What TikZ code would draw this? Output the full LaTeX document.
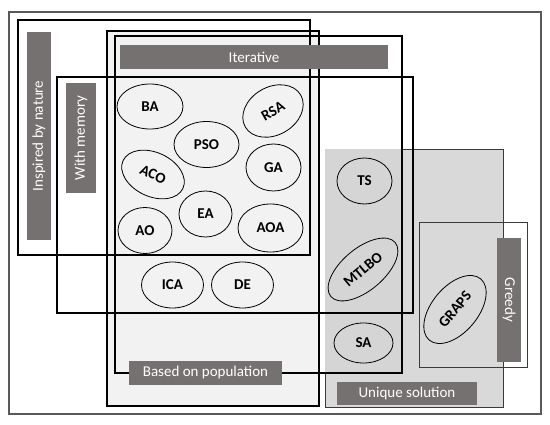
\documentclass[tikz,border=0pt]{standalone}
\usepackage{fontspec}
\setmainfont{Carlito}
\usetikzlibrary{shapes.geometric}
\definecolor{barcol}{HTML}{767171}
\definecolor{lightfill}{HTML}{F2F2F2}
\definecolor{midfill}{HTML}{D9D9D9}
\definecolor{overfill}{HTML}{D5D5D5}
\definecolor{framecol}{HTML}{595959}
\definecolor{thincol}{HTML}{3A3A3A}
\begin{document}
\begin{tikzpicture}[x=1pt,y=-1pt,
  region/.style={rectangle, inner sep=0pt, outer sep=0pt},
  setbox/.style={region, draw=black, line width=1.5pt},
  labelbar/.style={rectangle, fill=barcol, text=white, inner sep=0pt, outer sep=0pt,
    font=\fontsize{15}{18}\selectfont},
  algo/.style={ellipse, draw=black, line width=0.8pt, inner sep=0pt,
    font=\fontsize{15}{18}\selectfont\bfseries}]
\useasboundingbox (0,0) rectangle (550,425);
% outer frame
\node[region, draw=framecol, line width=1.2pt, minimum width=532pt, minimum height=402pt] (frame) at (275,213) {};
% filled areas
\node[region, fill=lightfill, minimum width=212pt, minimum height=375pt] (iterfill) at (213,218.5) {};
\node[region, fill=midfill, draw=thincol, line width=0.8pt, minimum width=178pt, minimum height=258pt] (unique) at (414,278) {};
\node[region, fill=overfill, minimum width=77pt, minimum height=224pt] (overlap) at (363.5,261) {};
% algorithms
\node[algo, minimum width=66pt, minimum height=45pt] (BA) at (150,106.5) {BA};
\node[algo, minimum width=65pt, minimum height=46pt] (PSO) at (206.5,144.5) {PSO};
\node[algo, minimum width=64pt, minimum height=48pt, rotate=30] (RSA) at (273,111) {RSA};
\node[algo, minimum width=66pt, minimum height=44pt, rotate=-25] (ACO) at (153,174.5) {ACO};
\node[algo, minimum width=55pt, minimum height=47pt] (GA) at (273.5,167.5) {GA};
\node[algo, minimum width=53pt, minimum height=46pt] (EA) at (205.5,214) {EA};
\node[algo, minimum width=54pt, minimum height=46pt] (AO) at (145,230.5) {AO};
\node[algo, minimum width=65pt, minimum height=48pt] (AOA) at (270.5,228) {AOA};
\node[algo, minimum width=62pt, minimum height=46pt] (ICA) at (172.5,285) {ICA};
\node[algo, minimum width=62pt, minimum height=46pt] (DE) at (242.5,285) {DE};
\node[algo, minimum width=55pt, minimum height=46pt] (TS) at (364.5,181) {TS};
\node[algo, minimum width=84pt, minimum height=42pt, rotate=40] (MTLBO) at (363,269.5) {MTLBO};
\node[algo, minimum width=59pt, minimum height=40pt] (SA) at (363.5,343) {SA};
\node[algo, minimum width=80pt, minimum height=46pt, rotate=50] (GRAPS) at (455,309.5) {GRAPS};
% set outlines
\node[setbox, minimum width=212pt, minimum height=375pt] (iterative) at (213,218.5) {};
\node[setbox, minimum width=292pt, minimum height=235pt] (nature) at (164,137.5) {};
\node[setbox, minimum width=356pt, minimum height=236pt] (memory) at (235,195) {};
\node[setbox, minimum width=287pt, minimum height=337pt] (population) at (258.5,204.5) {};
\node[region, draw=thincol, line width=1pt, minimum width=108pt, minimum height=145pt] (greedy) at (473,295.5) {};
% label bars
\node[labelbar, minimum width=208pt, minimum height=24pt, rotate=90] (lnature) at (39,136) {Inspired by nature};
\node[labelbar, minimum width=110pt, minimum height=30pt, rotate=90] (lmemory) at (81,138) {With memory};
\node[labelbar, minimum width=268pt, minimum height=24pt] (literative) at (254,57) {Iterative};
\node[labelbar, minimum width=153pt, minimum height=24pt] (lpopulation) at (205.5,373) {Based on population};
\node[labelbar, minimum width=140pt, minimum height=23pt] (lunique) at (407,393.5) {Unique solution};
\node[labelbar, minimum width=124pt, minimum height=24pt, rotate=-90] (lgreedy) at (509,300) {Greedy};
\end{tikzpicture}
\end{document}
